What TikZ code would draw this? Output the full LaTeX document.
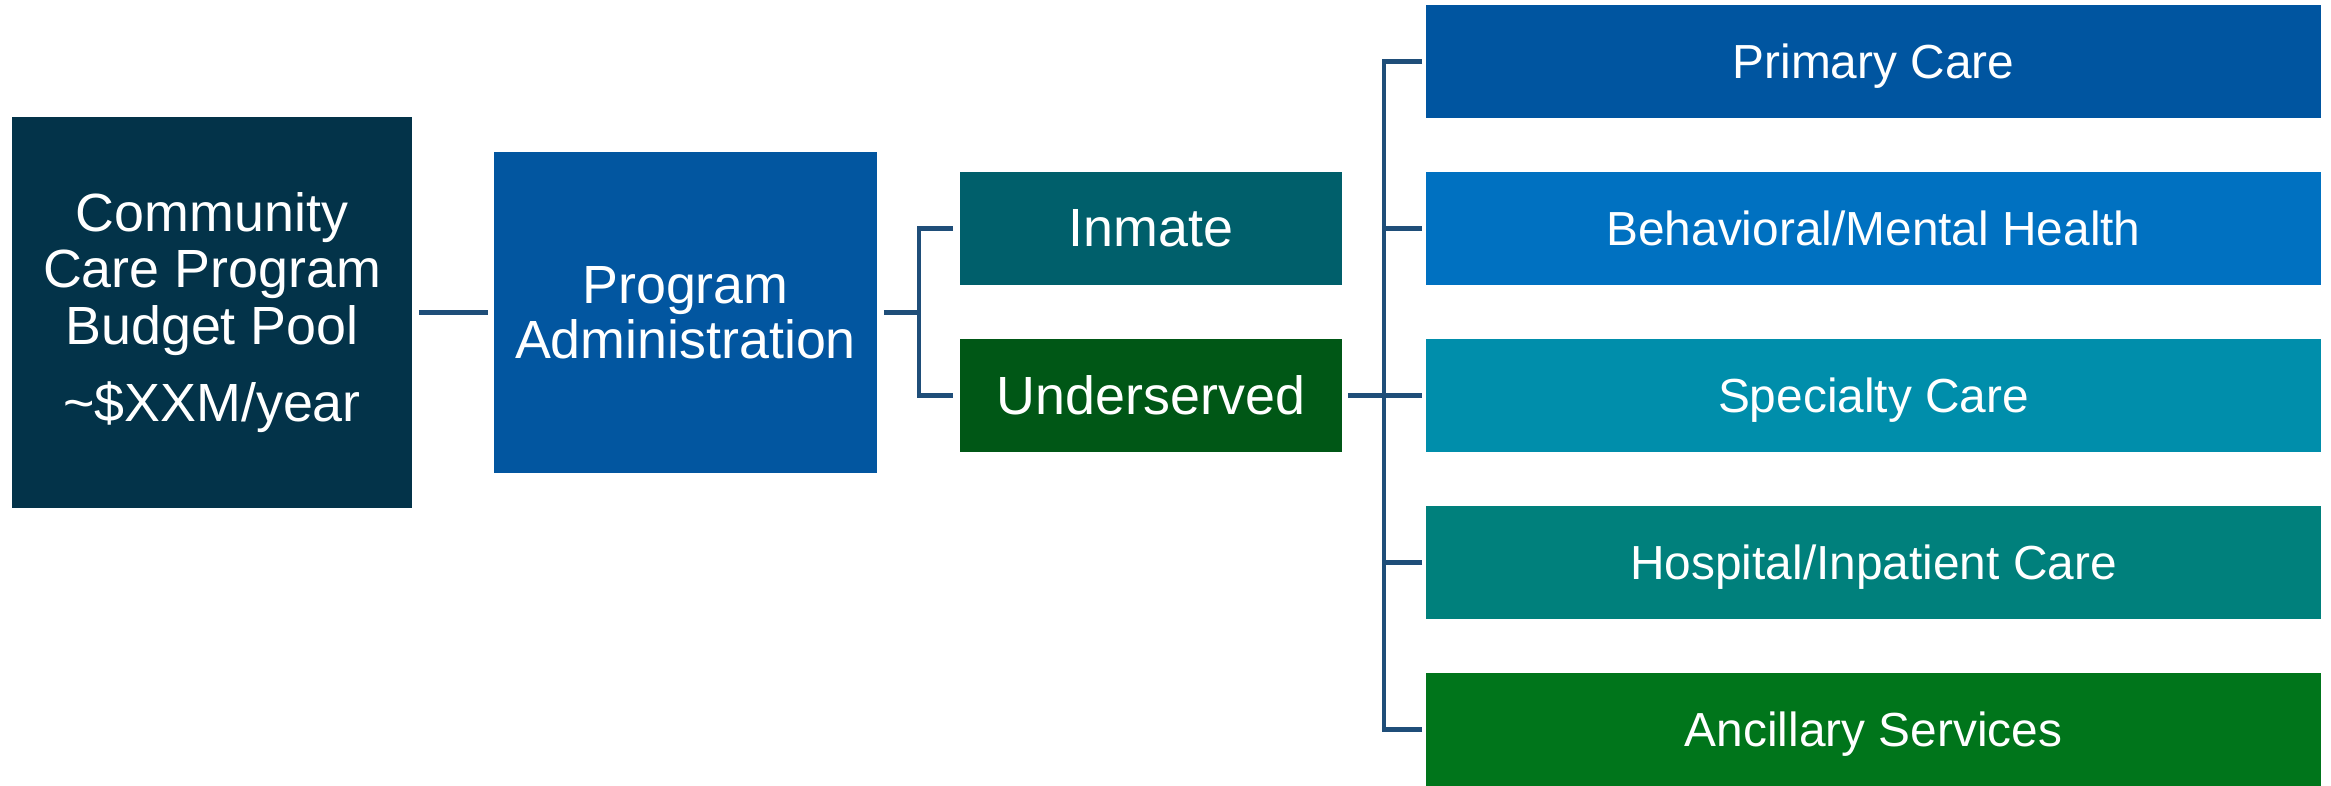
\documentclass[tikz,border=0pt]{standalone}
\usepackage{fontspec}
\setmainfont{Liberation Sans}

\definecolor{poolnavy}{RGB}{3,51,73}
\definecolor{adminblue}{RGB}{2,86,160}
\definecolor{inmateteal}{RGB}{0,95,107}
\definecolor{undergreen}{RGB}{0,87,22}
\definecolor{svcprimary}{RGB}{0,85,160}
\definecolor{svcbehav}{RGB}{0,113,193}
\definecolor{svcspec}{RGB}{0,142,171}
\definecolor{svchosp}{RGB}{0,128,124}
\definecolor{svcanc}{RGB}{0,117,27}
\definecolor{linkblue}{RGB}{31,78,121}

\tikzset{
  box/.style={fill=#1, text=white, align=center, inner sep=0pt,
    font=\fontsize{15.3}{16}\selectfont},
  bar/.style={box=#1, text depth=0pt},
  link/.style={draw=linkblue, line width=1.2pt},
}

\begin{document}
\begin{tikzpicture}[x=0.01cm,y=-0.01cm]
  \pgfmathsetmacro{\gap}{167}
  \useasboundingbox (0,0) rectangle (2331,786);

  \node[box=poolnavy, minimum width=4cm, minimum height=3.91cm] (pool) at (212,312.5)
    {Community\\Care Program\\Budget Pool\\[0.21cm]\textasciitilde\$XXM/year};
  \node[box=adminblue, minimum width=3.83cm, minimum height=3.21cm,
    font=\fontsize{15.3}{15.6}\selectfont] (admin) at (685.5,312.5)
    {Program\\Administration};

  \node[bar=inmateteal, minimum width=3.82cm, minimum height=1.13cm] (inmate) at (1151,228.5) {Inmate};
  \node[bar=undergreen, minimum width=3.82cm, minimum height=1.13cm] (under) at (1151,395.5) {Underserved};

  \foreach \n/\col/\txt in {0/svcprimary/{Primary Care},1/svcbehav/{Behavioral/Mental Health},
      2/svcspec/{Specialty Care},3/svchosp/{Hospital/Inpatient Care},4/svcanc/{Ancillary Services}}{
    \node[bar=\col, minimum width=8.95cm, minimum height=1.12cm,
      font=\fontsize{13.6}{16}\selectfont] (svc\n) at (1873.5,61.5+\n*\gap) {\txt};
  }

  %\draw[help lines] (0,0) grid[step=1cm] (2331,786);
  \coordinate (fork1) at (919,312.5);
  \coordinate (fork2) at (1384,395.5);

  \draw[link] ([xshift=0.6mm]pool.east) -- ([xshift=-0.5mm]admin.west);
  \draw[link] ([xshift=0.6mm]admin.east) -- (fork1);
  \draw[link] ([xshift=-0.6mm]inmate.west) -| (fork1) |- ([xshift=-0.6mm]under.west);

  \draw[link] ([xshift=0.5mm]under.east) -- (fork2);
  \foreach \n in {0,1,...,4}{
    \draw[link] ([xshift=-0.3mm]svc\n.west) -| (fork2);
  }
\end{tikzpicture}
\end{document}
